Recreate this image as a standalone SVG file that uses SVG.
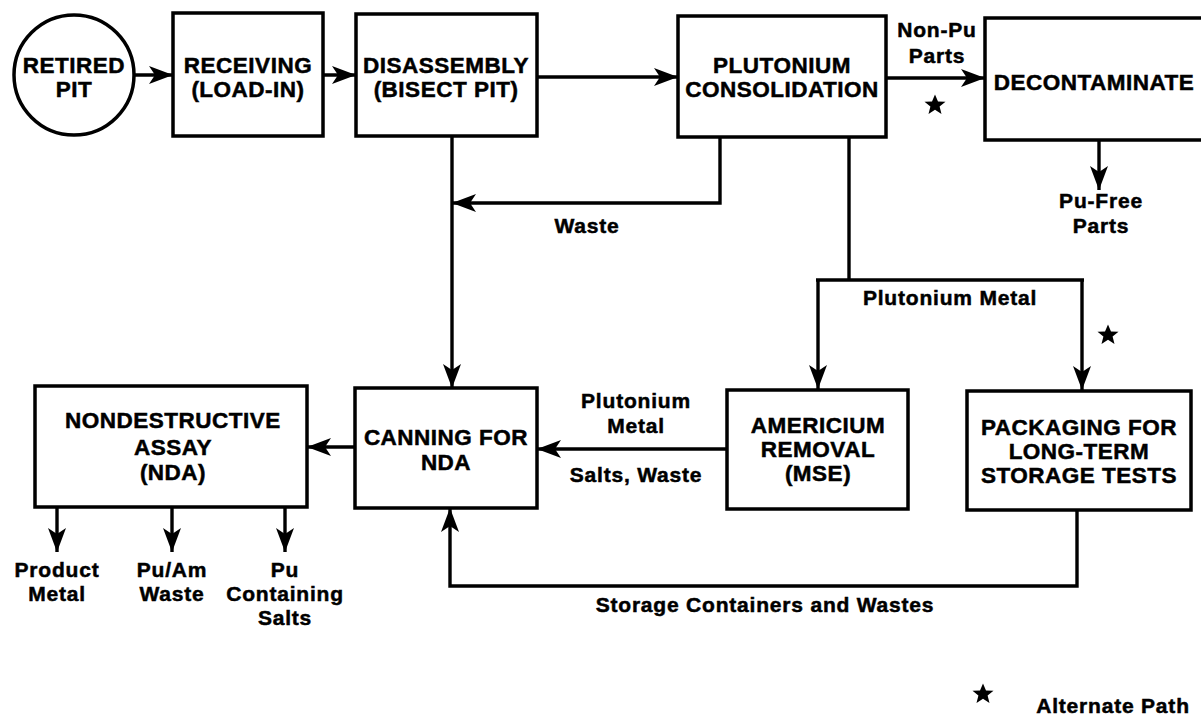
<svg xmlns="http://www.w3.org/2000/svg" width="1201" height="717" viewBox="0 0 1201 717">
<style>
.box{fill:#fff;stroke:#000;stroke-width:3.5}
.ln{fill:none;stroke:#000;stroke-width:3.4}
.nt{font-family:"Liberation Sans",Arial,sans-serif;font-weight:bold;font-size:22.5px;letter-spacing:0.5px;text-anchor:middle;fill:#000;stroke:#000;stroke-width:0.5}
.lb{font-family:"Liberation Sans",Arial,sans-serif;font-weight:bold;font-size:21px;letter-spacing:0.8px;text-anchor:middle;fill:#000;stroke:#000;stroke-width:0.5}
</style>
<defs>
<marker id="ah" markerUnits="userSpaceOnUse" markerWidth="26" markerHeight="20" refX="24" refY="9" orient="auto">
<path d="M0,0 L24,9 L0,18 L6,9 z" fill="#000"/>
</marker>
<polygon id="star" points="0,-10.5 3,-3.6 10.5,-3.3 4.6,1.6 6.5,9 0,4.8 -6.5,9 -4.6,1.6 -10.5,-3.3 -3,-3.6" fill="#000"/>
</defs>
<rect width="1201" height="717" fill="#fff"/>
<g id="connectors">
<line class="ln" x1="134" y1="75" x2="173" y2="75" marker-end="url(#ah)"/>
<line class="ln" x1="323" y1="75" x2="356" y2="75" marker-end="url(#ah)"/>
<line class="ln" x1="537" y1="77" x2="678" y2="77" marker-end="url(#ah)"/>
<line class="ln" x1="886" y1="78" x2="985" y2="78" marker-end="url(#ah)"/>
<line class="ln" x1="1099" y1="140" x2="1099" y2="190" marker-end="url(#ah)"/>
<polyline class="ln" points="720,137 720,203 452,203" marker-end="url(#ah)"/>
<line class="ln" x1="452" y1="136" x2="452" y2="388" marker-end="url(#ah)"/>
<line class="ln" x1="849" y1="137" x2="849" y2="280"/>
<line class="ln" x1="816" y1="280" x2="1084" y2="280"/>
<line class="ln" x1="818" y1="280" x2="818" y2="389" marker-end="url(#ah)"/>
<line class="ln" x1="1082" y1="280" x2="1082" y2="390" marker-end="url(#ah)"/>
<line class="ln" x1="727" y1="449" x2="537" y2="449" marker-end="url(#ah)"/>
<polyline class="ln" points="1077,510 1077,586 450,586 450,508" marker-end="url(#ah)"/>
<line class="ln" x1="355" y1="447" x2="307" y2="447" marker-end="url(#ah)"/>
<line class="ln" x1="57" y1="507" x2="57" y2="552" marker-end="url(#ah)"/>
<line class="ln" x1="172" y1="507" x2="172" y2="552" marker-end="url(#ah)"/>
<line class="ln" x1="285" y1="507" x2="285" y2="552" marker-end="url(#ah)"/>
</g>
<g id="retired-pit">
<circle class="box" cx="74" cy="75" r="60"/>
<text class="nt" x="74" y="73">RETIRED</text>
<text class="nt" x="74" y="97">PIT</text>
</g>
<g id="receiving">
<rect class="box" x="173" y="13" width="150" height="123"/>
<text class="nt" x="248" y="73">RECEIVING</text>
<text class="nt" x="248" y="97">(LOAD-IN)</text>
</g>
<g id="disassembly">
<rect class="box" x="356" y="14" width="181" height="122"/>
<text class="nt" x="446" y="73">DISASSEMBLY</text>
<text class="nt" x="446" y="97">(BISECT PIT)</text>
</g>
<g id="consolidation">
<rect class="box" x="678" y="16" width="208" height="121"/>
<text class="nt" x="782" y="73">PLUTONIUM</text>
<text class="nt" x="782" y="97">CONSOLIDATION</text>
</g>
<g id="decontaminate">
<rect class="box" x="985" y="18" width="230" height="122"/>
<text class="nt" x="1094" y="90">DECONTAMINATE</text>
</g>
<g id="nda">
<rect class="box" x="35" y="386" width="272" height="121"/>
<text class="nt" x="173" y="428">NONDESTRUCTIVE</text>
<text class="nt" x="173" y="455">ASSAY</text>
<text class="nt" x="173" y="480">(NDA)</text>
</g>
<g id="canning">
<rect class="box" x="355" y="388" width="182" height="120"/>
<text class="nt" x="446" y="445">CANNING FOR</text>
<text class="nt" x="446" y="470">NDA</text>
</g>
<g id="americium">
<rect class="box" x="727" y="390" width="181" height="119"/>
<text class="nt" x="818" y="433">AMERICIUM</text>
<text class="nt" x="818" y="457">REMOVAL</text>
<text class="nt" x="818" y="481">(MSE)</text>
</g>
<g id="packaging">
<rect class="box" x="967" y="391" width="224" height="119"/>
<text class="nt" x="1079" y="435">PACKAGING FOR</text>
<text class="nt" x="1079" y="459">LONG-TERM</text>
<text class="nt" x="1079" y="483">STORAGE TESTS</text>
</g>
<g id="labels">
<text class="lb" x="937" y="37">Non-Pu</text>
<text class="lb" x="937" y="63">Parts</text>
<use href="#star" x="935" y="105"/>
<text class="lb" x="1101" y="208">Pu-Free</text>
<text class="lb" x="1101" y="233">Parts</text>
<text class="lb" x="587" y="233">Waste</text>
<text class="lb" x="950" y="305">Plutonium Metal</text>
<use href="#star" x="1108" y="335"/>
<text class="lb" x="636" y="408">Plutonium</text>
<text class="lb" x="636" y="433">Metal</text>
<text class="lb" x="636" y="482">Salts, Waste</text>
<text class="lb" x="765" y="612">Storage Containers and Wastes</text>
<text class="lb" x="57" y="577">Product</text>
<text class="lb" x="57" y="601">Metal</text>
<text class="lb" x="172" y="577">Pu/Am</text>
<text class="lb" x="172" y="601">Waste</text>
<text class="lb" x="285" y="577">Pu</text>
<text class="lb" x="285" y="601">Containing</text>
<text class="lb" x="285" y="625">Salts</text>
<use href="#star" x="983" y="694"/>
<text class="lb" x="1113" y="713">Alternate Path</text>
</g>
</svg>
